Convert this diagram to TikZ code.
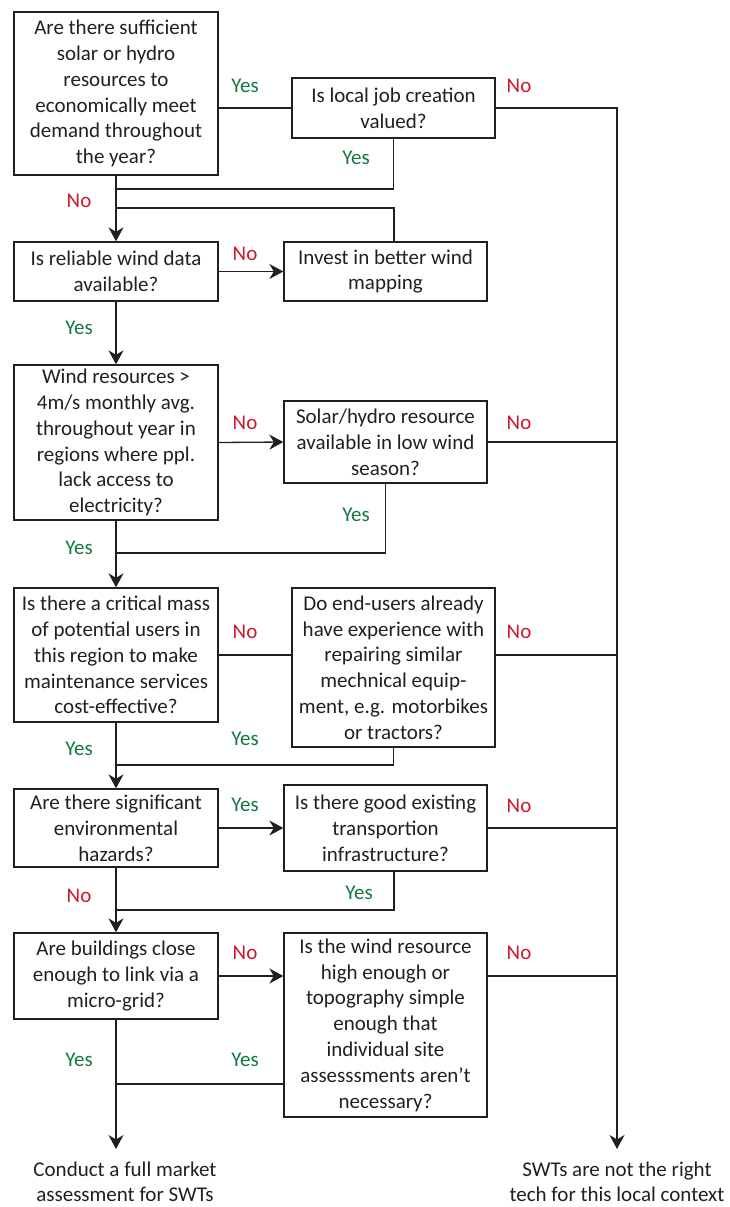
\documentclass[tikz,border=0pt]{standalone}
\usepackage{fontspec}
\setmainfont{Carlito}
\usetikzlibrary{arrows.meta}
\definecolor{ink}{RGB}{35,31,32}
\definecolor{yesc}{RGB}{20,120,65}
\definecolor{noc}{RGB}{205,25,45}
\tikzset{
  qbox/.style={draw=ink, line width=1.3pt, align=center, inner sep=0pt,
    font=\fontsize{21}{25.8}\selectfont, text=ink},
  conn/.style={draw=ink, line width=1.3pt},
  arr/.style={conn, -{Stealth[length=14pt,width=15pt,inset=4.5pt]}},
  yes/.style={text=yesc, font=\fontsize{21}{24}\selectfont},
  no/.style={text=noc, font=\fontsize{21}{24}\selectfont},
  endtxt/.style={align=center, inner sep=0pt, text=ink, font=\fontsize{21}{25.5}\selectfont}
}
\begin{document}
\begin{tikzpicture}[x=1pt,y=-1pt]
\useasboundingbox (0,0) rectangle (730,1207);
% boxes
\node[qbox, minimum width=204pt, minimum height=163pt] (b1) at (116,93.5)
  {Are there sufficient\\solar or hydro\\resources to\\economically meet\\demand throughout\\the year?};
\node[qbox, minimum width=203pt, minimum height=60pt] (job) at (393.5,108)
  {Is local job creation\\valued?};
\node[qbox, minimum width=204pt, minimum height=59pt] (b2) at (116,271.5)
  {Is reliable wind data\\available?};
\node[qbox, minimum width=203pt, minimum height=59pt] (inv) at (385.5,271.5)
  {Invest in better wind\\mapping};
\node[qbox, minimum width=204pt, minimum height=155pt] (b3) at (116,442.5)
  {Wind resources >\\4m/s monthly avg.\\throughout year in\\regions where ppl.\\lack access to\\electricity?};
\node[qbox, minimum width=203pt, minimum height=82pt] (sol) at (385.5,442)
  {Solar/hydro resource\\available in low wind\\season?};
\node[qbox, minimum width=204pt, minimum height=134pt] (b4) at (116,655)
  {Is there a critical mass\\of potential users in\\this region to make\\maintenance services\\cost-effective?};
\node[qbox, minimum width=203pt, minimum height=159pt] (b5) at (393.5,667.5)
  {Do end-users already\\have experience with\\repairing similar\\mechnical equip-\\ment, e.g. motorbikes\\or tractors?};
\node[qbox, minimum width=204pt, minimum height=78pt] (b6) at (116,828)
  {Are there significant\\environmental\\hazards?};
\node[qbox, minimum width=203pt, minimum height=86pt] (b7) at (385.5,828)
  {Is there good existing\\transportion\\infrastructure?};
\node[qbox, minimum width=204pt, minimum height=86pt] (b8) at (116,976)
  {Are buildings close\\enough to link via a\\micro-grid?};
\node[qbox, minimum width=203pt, minimum height=184pt] (b9) at (385.5,1025)
  {Is the wind resource\\high enough or\\topography simple\\enough that\\individual site\\assesssments aren't\\necessary?};
\node[endtxt] (end1) at (125,1182) {Conduct a full market\\assessment for SWTs};
\node[endtxt] (end2) at (617,1182) {SWTs are not the right\\tech for this local context};
% coordinates
\coordinate (rtop) at (617,108);
\coordinate (rend) at (617,1149);
\coordinate (lend) at (116,1149);
\coordinate (m1) at (116,189);
\coordinate (m2) at (116,208);
\coordinate (m3) at (116,553);
\coordinate (m4) at (116,765);
\coordinate (m5) at (116,910);
\coordinate (m6) at (116,1084);
% connectors
\draw[conn] (job.west) -- (job.west -| b1.east);
\draw[arr] (job.east) -- (rtop) -- (rend);
\draw[conn] (job.south) |- (m1);
\draw[arr] (b1.south) -- (b2.north);
\draw[conn] ([xshift=8.5pt]inv.north) |- (m2);
\draw[arr] (b2.east) -- (inv.west);
\draw[arr] (b2.south) -- (b3.north);
\draw[arr] (b3.east) -- (sol.west);
\draw[conn] (sol.east) -- (sol.east -| rtop);
\draw[conn] (sol.south) |- (m3);
\draw[arr] (b3.south) -- (b4.north);
\draw[conn] (b4.east) -- (b4.east -| b5.west);
\draw[conn] (b4.east -| b5.east) -- (b4.east -| rtop);
\draw[conn] (b5.south) |- (m4);
\draw[arr] (b4.south) -- (b6.north);
\draw[arr] (b6.east) -- (b7.west);
\draw[conn] (b7.east) -- (b7.east -| rtop);
\draw[conn] ([xshift=8.5pt]b7.south) |- (m5);
\draw[arr] (b6.south) -- (b8.north);
\draw[arr] (b8.east) -- (b8.east -| b9.west);
\draw[conn] (b8.east -| b9.east) -- (b8.east -| rtop);
\draw[conn] (m6 -| b9.west) -- (m6);
\draw[arr] (b8.south) -- (lend);
% labels
\node[yes] (l1) at (245,86) {Yes};
\node[no]  (l2) at (519,86) {No};
\node[yes] (l3) at (356,158) {Yes};
\node[no]  (l4) at (79,201) {No};
\node[no]  (l5) at (245,254) {No};
\node[yes] (l6) at (79,328) {Yes};
\node[no]  (l7) at (245,423) {No};
\node[no]  (l8) at (519,423) {No};
\node[yes] (l9) at (356,515) {Yes};
\node[yes] (l10) at (79,548) {Yes};
\node[no]  (l11) at (245,632) {No};
\node[no]  (l12) at (519,632) {No};
\node[yes] (l13) at (245,739) {Yes};
\node[yes] (l14) at (79,749) {Yes};
\node[yes] (l15) at (245,805) {Yes};
\node[no]  (l16) at (519,806) {No};
\node[yes] (l17) at (359,893) {Yes};
\node[no]  (l18) at (79,896) {No};
\node[no]  (l19) at (245,953) {No};
\node[no]  (l20) at (519,953) {No};
\node[yes] (l21) at (79,1060) {Yes};
\node[yes] (l22) at (245,1060) {Yes};
\end{tikzpicture}
\end{document}
